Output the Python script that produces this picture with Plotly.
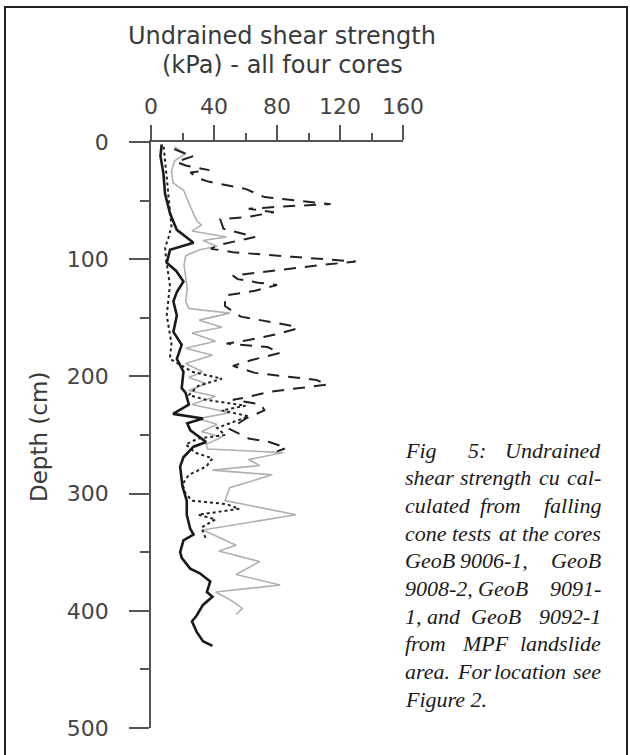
import plotly.graph_objects as go

# ---------------- data ----------------
# Core 1 (solid thick black)
depth_a = [2, 12, 27, 44, 61, 75, 86, 92, 103, 110, 119, 128, 136, 148, 162, 173, 185, 196, 210, 214,
           224, 232, 236, 240, 246, 256, 260, 269, 277, 294, 306, 318, 330, 335, 340, 350, 355, 364, 368, 375,
           384, 388, 395, 404, 409, 418, 426, 430]
cu_a = [6.8, 6, 7.9, 8.9, 12.1, 16.4, 27, 12.1, 10, 16, 20.6, 16.4, 14.2, 16.4, 14.2, 19.5, 16.4, 20.6, 19.5, 22,
        24, 14, 33, 23, 25, 35, 27, 20.6, 18.5, 20, 22.7, 22.7, 24.9, 27, 20.6, 18.5, 19.6, 24.9, 31, 37.6,
        35.5, 39, 33, 29, 26, 29, 33, 39]

# Core 2 (dotted black)
depth_b = [4, 15, 30, 45, 60, 72, 82, 90, 100, 110, 122, 135, 148, 160, 172, 185, 196, 202, 208, 216,
           220, 225, 229, 234, 239, 244, 250, 253, 258, 265, 270, 277, 284, 292, 300, 306, 309, 313, 318, 322,
           329, 339]
cu_b = [8, 9, 10, 11, 12, 13, 11, 9, 9.6, 10.5, 12, 11, 10, 11.5, 13, 12, 26, 45, 30, 24,
        35, 60, 45, 62, 52, 42, 47, 30, 22, 28, 39, 35, 24, 20, 22, 26, 48, 56, 30, 41,
        32, 35]

# Core 3 (long dashed black)
depth_c = [6, 9, 12, 17, 20, 24, 26, 31, 34, 40, 47, 49, 52, 53, 55, 57, 60, 64, 66, 74,
           81, 87, 91, 94, 98, 102, 105, 110, 114, 117, 120, 122, 127, 131, 140, 149, 153, 157, 159, 164,
           169, 172, 175, 180, 186, 191, 197, 200, 203, 207, 210, 213, 218, 220, 224, 229, 236, 245, 253, 256,
           261, 264]
cu_c = [14.7, 20, 27, 16, 22, 37, 25, 30, 37, 60, 72, 86, 103, 114, 84, 62, 78, 61, 44, 46,
        66, 46, 38, 52, 90, 130, 108, 75, 52, 55, 68, 80, 66, 47, 47, 57, 74, 90, 93, 80,
        62, 48, 74, 82, 64, 52, 66, 84, 105, 112, 95, 76, 60, 52, 70, 72, 60, 50, 62, 75,
        86, 80]

# Core 4 (light grey solid)
depth_d = [4, 10, 16, 25, 35, 41, 55, 67, 71, 76, 81, 84, 89, 92, 97, 105, 115, 125, 136, 142,
           146, 152, 158, 163, 170, 176, 182, 189, 196, 201, 206, 212, 217, 224, 231, 236, 241, 247, 252, 258,
           262, 265, 271, 276, 280, 284, 295, 306, 318, 331, 344, 349, 358, 369, 378, 384, 392, 398, 403]
cu_d = [15, 22, 15, 13, 14, 20.6, 25, 29, 32, 26, 48, 33, 42, 31, 22, 21, 22, 23, 22, 24,
        50, 30.6, 45, 26, 41, 22, 39, 22, 32.7, 24, 35, 24, 41, 26, 50, 30, 42, 32, 45, 35,
        36, 84, 62, 69, 39, 77, 50, 47, 92, 33, 54, 43, 69, 54, 82, 41, 52, 58, 54]

x_ticks = [0, 40, 80, 120, 160]
y_ticks = [0, 100, 200, 300, 400, 500]

title_lines = ["Undrained shear strength", "(kPa) - all four cores"]
y_title = "Depth (cm)"

# caption words: (text, anchor, x-pixel) per line
caption = [
    [("Fig", "left", 403), ("5:", "left", 466), ("Undrained", "right", 603)],
    [("shear", "left", 403), ("strength", "left", 458), ("cu", "left", 537), ("cal-", "right", 603)],
    [("culated", "left", 403), ("from", "left", 478), ("falling", "right", 603)],
    [("cone", "left", 403), ("tests", "left", 450), ("at", "left", 497), ("the", "left", 520), ("cores", "right", 603)],
    [("GeoB", "left", 403), ("9006-1,", "left", 458), ("GeoB", "right", 603)],
    [("9008-2,", "left", 403), ("GeoB", "left", 476), ("9091-", "right", 603)],
    [("1,", "left", 403), ("and", "left", 425), ("GeoB", "left", 469), ("9092-1", "right", 603)],
    [("from", "left", 403), ("MPF", "left", 460), ("landslide", "right", 603)],
    [("area.", "left", 403), ("For", "left", 455), ("location", "left", 492), ("see", "right", 603)],
    [("Figure 2.", "left", 403)],
]

# ---------------- layout geometry (pixels) ----------------
W, H = 630, 755
L, R, T, B = 151, 403, 142, 728
pw, ph = R - L, B - T


def px(x):
    return (x - L) / pw


def py(y):
    return (B - y) / ph


fig = go.Figure()
fig.add_trace(go.Scatter(x=cu_d, y=depth_d, mode="lines",
                         line=dict(color="#b0b0b0", width=1.6), showlegend=False))
fig.add_trace(go.Scatter(x=cu_c, y=depth_c, mode="lines",
                         line=dict(color="#222222", width=2, dash="12px,9px"), showlegend=False))
fig.add_trace(go.Scatter(x=cu_b, y=depth_b, mode="lines",
                         line=dict(color="#222222", width=2, dash="3px,3px"), showlegend=False))
fig.add_trace(go.Scatter(x=cu_a, y=depth_a, mode="lines",
                         line=dict(color="#1a1a1a", width=2.6), showlegend=False))

tickfont = dict(family="DejaVu Sans", size=22, color="#444444")
fig.update_xaxes(range=[0, 160], side="top", tickvals=x_ticks, ticktext=[str(v) for v in x_ticks],
                 ticks="outside", ticklen=15, tickwidth=1.6, tickcolor="#555555",
                 showline=True, linecolor="#555555", linewidth=1.6, showgrid=False, zeroline=False,
                 tickfont=tickfont, ticklabelstandoff=2,
                 minor=dict(tickvals=[20, 60, 100, 140], ticks="outside", ticklen=7,
                            tickwidth=1.6, tickcolor="#555555"))
fig.update_yaxes(range=[500, 0], tickvals=y_ticks, ticktext=[str(v) for v in y_ticks],
                 ticks="outside", ticklen=20, tickwidth=1.6, tickcolor="#555555",
                 showline=True, linecolor="#555555", linewidth=1.6, showgrid=False, zeroline=False,
                 tickfont=tickfont, ticklabelstandoff=16,
                 minor=dict(tickvals=[50, 150, 250, 350, 450], ticks="outside", ticklen=9,
                            tickwidth=1.6, tickcolor="#555555"))

ann = []
for i, line in enumerate(title_lines):
    ann.append(dict(x=px(282), y=py(36 + 29 * i), xref="paper", yref="paper", text=line,
                    showarrow=False, xanchor="center", yanchor="middle",
                    font=dict(family="DejaVu Sans", size=24, color="#3a3a3a")))
ann.append(dict(x=px(39), y=py(437), xref="paper", yref="paper", text=y_title, textangle=-90,
                showarrow=False, xanchor="center", yanchor="middle",
                font=dict(family="DejaVu Sans", size=23, color="#3a3a3a")))
for i, line in enumerate(caption):
    yy = 450 + 27.7 * i
    for word, anchor, xx in line:
        ann.append(dict(x=px(xx), y=py(yy), xref="paper", yref="paper", text="<i>%s</i>" % word,
                        showarrow=False, xanchor=anchor, yanchor="middle",
                        font=dict(family="Liberation Serif", size=22, color="#1a1a1a")))

fig.update_layout(
    width=W, height=H, margin=dict(l=L, r=W - R, t=T, b=H - B),
    paper_bgcolor="white", plot_bgcolor="white", showlegend=False,
    annotations=ann,
    shapes=[dict(type="rect", xref="paper", yref="paper", x0=px(5), x1=px(627), y0=py(765), y1=py(7),
                 line=dict(color="#222222", width=2), fillcolor="rgba(0,0,0,0)", layer="above")],
)

fig.write_html("out.html")
